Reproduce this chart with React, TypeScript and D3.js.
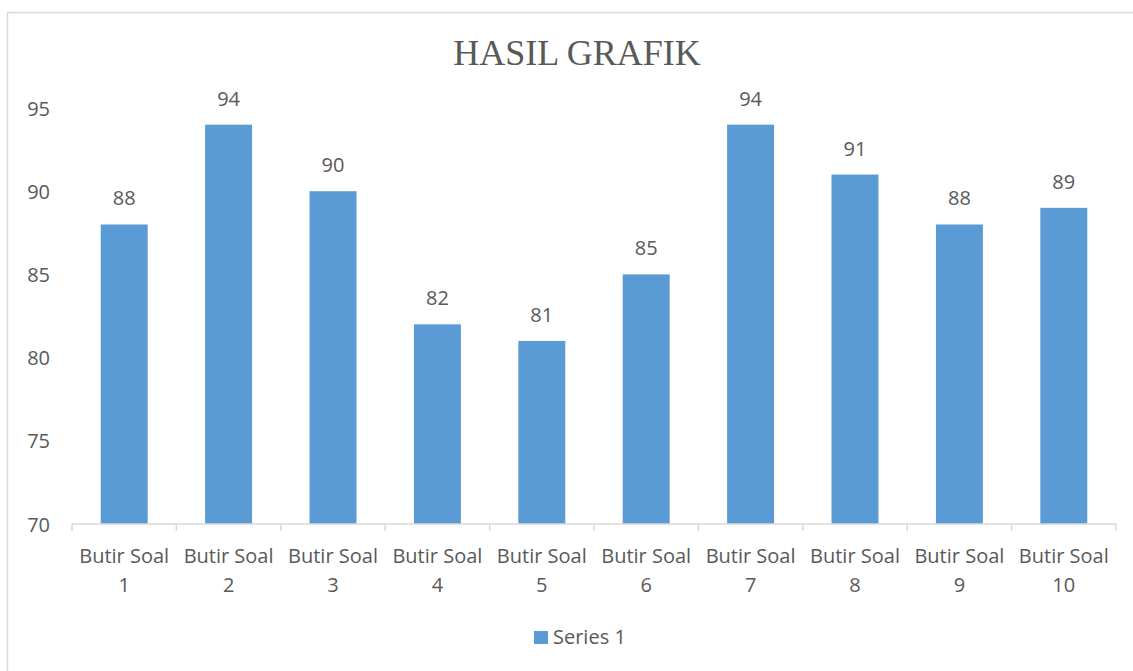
import * as d3 from "d3";

const categories = ["1", "2", "3", "4", "5", "6", "7", "8", "9", "10"];
const values = [88, 94, 90, 82, 81, 85, 94, 91, 88, 89];
const yTicks = [70, 75, 80, 85, 90, 95];
const seriesName = "Series 1";
const title = "HASIL GRAFIK";

const W = 1133;
const H = 671;
const PLOT = {left: 72, right: 1116, top: 108, bottom: 524};
const BAR = "#5b9bd5";
const TEXT = "#595959";
const LINE = "#d9d9d9";
const FONT = "'Open Sans', sans-serif";

export default function App() {
    const xScale = d3
        .scaleBand()
        .domain(categories)
        .range([PLOT.left, PLOT.right])
        .paddingInner(0.55)
        .paddingOuter(0.275);

    const yScale = d3.scaleLinear().domain([70, 95]).range([PLOT.bottom, PLOT.top]);

    const step = xScale.step();
    const bandStart = (c: string) => (xScale(c) ?? 0) - step * 0.275;

    const bars = categories.map((c, i) => {
        const x = xScale(c) ?? 0;
        const y = yScale(values[i]);
        return (
            <g key={c}>
                <rect x={x} y={y} width={xScale.bandwidth()} height={PLOT.bottom - y} fill={BAR}/>
                <text
                    x={x + xScale.bandwidth() / 2}
                    y={y - 19}
                    textAnchor="middle"
                    fontSize={20}
                    fill={TEXT}
                    fontFamily={FONT}
                >
                    {values[i]}
                </text>
            </g>
        );
    });

    // tick marks sit on band boundaries, Excel style
    const tickXs = [...categories.map(bandStart), PLOT.right];

    const xLabels = categories.map((c) => {
        const cx = (xScale(c) ?? 0) + xScale.bandwidth() / 2;
        return (
            <text key={c} textAnchor="middle" fontSize={20} fill={TEXT} fontFamily={FONT}>
                <tspan x={cx} y={563}>Butir Soal</tspan>
                <tspan x={cx} y={592}>{c}</tspan>
            </text>
        );
    });

    const yLabels = yTicks.map((t) => (
        <text
            key={t}
            x={50}
            y={yScale(t)}
            textAnchor="end"
            dominantBaseline="central"
            fontSize={20}
            fill={TEXT}
            fontFamily={FONT}
        >
            {t}
        </text>
    ));

    return (
        <svg width={W} height={H} style={{position: "absolute", left: 0, top: 0}}>
            <rect x={0} y={0} width={W} height={H} fill="white"/>
            <rect x={7.5} y={12.5} width={W + 10} height={H + 10} fill="none" stroke={LINE} strokeWidth={1.5}/>
            <text
                x={577}
                y={65}
                textAnchor="middle"
                fontSize={36}
                fill={TEXT}
                fontFamily="'Liberation Serif', serif"
            >
                {title}
            </text>
            {bars}
            <line x1={PLOT.left} x2={PLOT.right} y1={PLOT.bottom} y2={PLOT.bottom} stroke={LINE} strokeWidth={1.5}/>
            {tickXs.map((x, i) => (
                <line key={i} x1={x} x2={x} y1={PLOT.bottom} y2={PLOT.bottom + 7} stroke={LINE} strokeWidth={1.5}/>
            ))}
            {xLabels}
            {yLabels}
            <rect x={534} y={631} width={14} height={13} fill={BAR}/>
            <text x={553} y={644} fontSize={20} fill={TEXT} fontFamily={FONT}>
                {seriesName}
            </text>
        </svg>
    );
}
